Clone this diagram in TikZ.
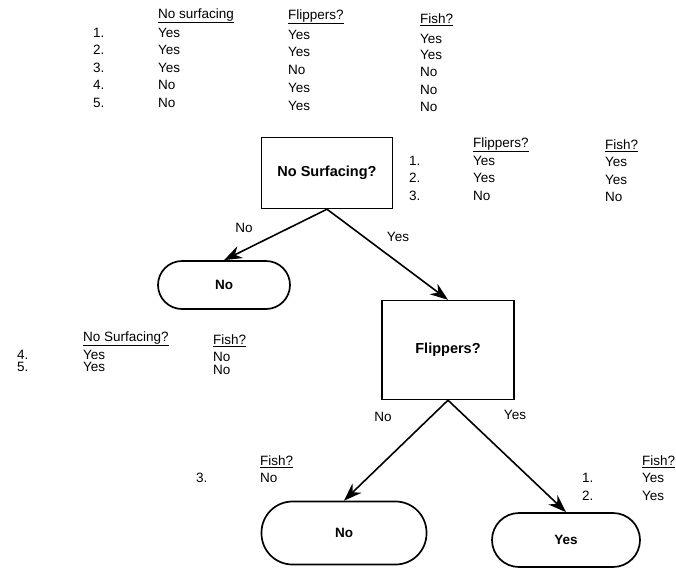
\documentclass[tikz,border=0pt]{standalone}
\usepackage{fontspec}
\setmainfont{Liberation Sans}
\usetikzlibrary{arrows.meta}
\begin{document}
\begin{tikzpicture}[x=1pt,y=-1pt,
  tx/.style={anchor=west,inner sep=0pt,font=\fontsize{13.5}{15}\selectfont},
  lbl/.style={inner sep=0pt,font=\fontsize{13.5}{15}\selectfont},
  boxq/.style={draw,line width=1.4pt,inner sep=0pt,font=\bfseries\fontsize{14.5}{16}\selectfont},
  leaf/.style={draw,line width=1.7pt,inner sep=0pt,font=\bfseries\fontsize{13.5}{15}\selectfont},
  arr/.style={line width=1.6pt,-{Stealth[length=18pt,width=13pt]}}]
\useasboundingbox (0,0) rectangle (676,570);
% top table
\node[tx] (h1) at (158,16) {\underline{No surfacing}};
\node[tx] (h2) at (288,17) {\underline{Flippers?}};
\node[tx] (h3) at (420,20) {\underline{Fish?}};
\node[tx] (n1) at (93,33) {1.};
\node[tx] (n2) at (93,50) {2.};
\node[tx] (n3) at (93,68) {3.};
\node[tx] (n4) at (93,85) {4.};
\node[tx] (n5) at (93,103) {5.};
\node[tx] (a1) at (158,33) {Yes};
\node[tx] (a2) at (158,50) {Yes};
\node[tx] (a3) at (158,68) {Yes};
\node[tx] (a4) at (158,85) {No};
\node[tx] (a5) at (158,103) {No};
\node[tx] (b1) at (288,35) {Yes};
\node[tx] (b2) at (288,52) {Yes};
\node[tx] (b3) at (288,70) {No};
\node[tx] (b4) at (288,88) {Yes};
\node[tx] (b5) at (288,106) {Yes};
\node[tx] (c1) at (420,39) {Yes};
\node[tx] (c2) at (420,55) {Yes};
\node[tx] (c3) at (420,72) {No};
\node[tx] (c4) at (420,90) {No};
\node[tx] (c5) at (420,107) {No};
% second table
\node[tx] (sh1) at (473,145) {\underline{Flippers?}};
\node[tx] (sh2) at (605,146) {\underline{Fish?}};
\node[tx] (sn1) at (409,161) {1.};
\node[tx] (sn2) at (409,178) {2.};
\node[tx] (sn3) at (409,196) {3.};
\node[tx] (sa1) at (473,161) {Yes};
\node[tx] (sa2) at (473,178) {Yes};
\node[tx] (sa3) at (473,196) {No};
\node[tx] (sb1) at (605,162) {Yes};
\node[tx] (sb2) at (605,180) {Yes};
\node[tx] (sb3) at (605,197) {No};
% left table
\node[tx] (lh1) at (83,339) {\underline{No Surfacing?}};
\node[tx] (lh2) at (213,341) {\underline{Fish?}};
\node[tx] (ln4) at (17,355) {4.};
\node[tx] (ln5) at (17,367) {5.};
\node[tx] (la4) at (83,355) {Yes};
\node[tx] (la5) at (83,367) {Yes};
\node[tx] (lb4) at (213,357) {No};
\node[tx] (lb5) at (213,370) {No};
% bottom-left table
\node[tx] (bh) at (260,462) {\underline{Fish?}};
\node[tx] (bn3) at (196,478) {3.};
\node[tx] (ba3) at (260,478) {No};
% bottom-right table
\node[tx] (rh) at (642,462) {\underline{Fish?}};
\node[tx] (rn1) at (582,478) {1.};
\node[tx] (rn2) at (582,496) {2.};
\node[tx] (ra1) at (642,478) {Yes};
\node[tx] (ra2) at (642,496) {Yes};
% tree nodes
\node[boxq,minimum width=131pt,minimum height=71pt] (ns) at (327,173) {No Surfacing?};
\node[leaf,rounded corners=24pt,minimum width=132pt,minimum height=48pt] (lA) at (224,285) {No};
\node[boxq,minimum width=132pt,minimum height=99pt] (fl) at (448,350) {Flippers?};
\node[leaf,rounded corners=31pt,minimum width=165pt,minimum height=63pt] (lB) at (344,533) {No};
\node[leaf,rounded corners=27pt,minimum width=148pt,minimum height=54pt] (lC) at (566,540) {Yes};
% edge labels
\node[lbl] (e1) at (244,228) {No};
\node[lbl] (e2) at (398,237) {Yes};
\node[lbl] (e3) at (383,417) {No};
\node[lbl] (e4) at (515,415) {Yes};
% connectors
\draw[arr] (ns.south) -- (lA.north);
\draw[arr] (ns.south) -- (fl.north);
\draw[arr] (fl.south) -- (lB.north);
\draw[arr] (fl.south) -- (lC.north);
\end{tikzpicture}
\end{document}
